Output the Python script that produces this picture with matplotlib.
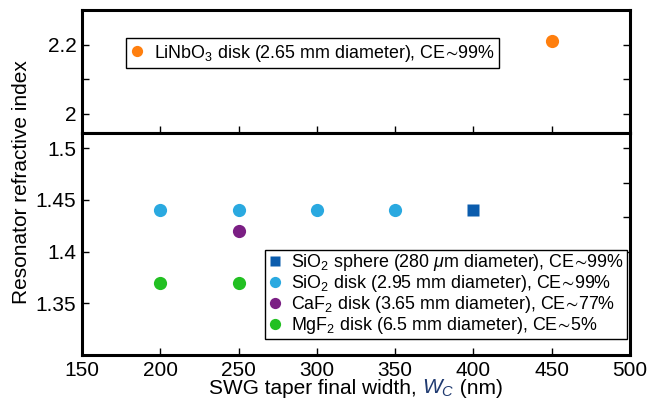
import matplotlib
matplotlib.use("Agg")
import matplotlib.pyplot as plt

plt.rcParams['font.family'] = ['Liberation Sans', 'DejaVu Sans']
plt.rcParams['mathtext.fontset'] = 'custom'
plt.rcParams['mathtext.rm'] = 'Liberation Sans'
plt.rcParams['mathtext.it'] = 'Liberation Sans:italic'
plt.rcParams['mathtext.bf'] = 'Liberation Sans:bold'
plt.rcParams['mathtext.fallback'] = 'stixsans'

# ---- data ----
linbo3_x = [450]
linbo3_y = [2.21]
sio2_sphere_x = [400]
sio2_sphere_y = [1.44]
sio2_disk_x = [200, 250, 300, 350]
sio2_disk_y = [1.44, 1.44, 1.44, 1.44]
caf2_x = [250]
caf2_y = [1.42]
mgf2_x = [200, 250]
mgf2_y = [1.37, 1.37]

x_ticks = [150, 200, 250, 300, 350, 400, 450, 500]
top_yticks = [2.0, 2.1, 2.2]
top_yticklabels = ['2', '', '2.2']
bot_yticks = [1.35, 1.40, 1.45, 1.50]
bot_yticklabels = ['1.35', '1.4', '1.45', '1.5']

SIM = r'$\!{\sim}\!$'
lbl_linbo3 = r'LiNbO$_3$ disk (2.65 mm diameter), CE' + SIM + '99%'
lbl_sphere = r'SiO$_2$ sphere (280 $\mu$m diameter), CE' + SIM + '99%'
lbl_sio2 = r'SiO$_2$ disk (2.95 mm diameter), CE' + SIM + '99%'
lbl_caf2 = r'CaF$_2$ disk (3.65 mm diameter), CE' + SIM + '77%'
lbl_mgf2 = r'MgF$_2$ disk (6.5 mm diameter), CE' + SIM + '5%'

xlabel_parts = ['SWG taper final width, ', r'$\mathit{W}_\mathit{C}$', ' (nm)']
xlabel_colors = ['black', '#1f3a70', 'black']

c_orange = '#ff7f0e'
c_sphere = '#0b5cad'
c_disk = '#2aa9e0'
c_caf2 = '#7b1f84'
c_mgf2 = '#22c022'

W, H = 647, 405
fig = plt.figure(figsize=(W / 100, H / 100), dpi=100)

left, right = 82 / W, 630 / W
y_top1 = 1 - 10 / H
y_div = 1 - 132.7 / H
y_bot0 = 1 - 355 / H

ax_t = fig.add_axes([left, y_div, right - left, y_top1 - y_div])
ax_b = fig.add_axes([left, y_bot0, right - left, y_div - y_bot0])

ms = 9.5
for ax in (ax_t, ax_b):
    for s in ax.spines.values():
        s.set_linewidth(2.2)
    ax.set_xlim(150, 500)
    ax.set_xticks(x_ticks)
    ax.tick_params(axis='both', direction='in', length=5, width=1,
                   labelsize=15, top=False, right=True, pad=4)

# top panel
ax_t.plot(linbo3_x, linbo3_y, 'o', color=c_orange, ms=ms, mec='none', label=lbl_linbo3)
ax_t.set_ylim(1.945, 2.3)
ax_t.set_yticks(top_yticks)
ax_t.set_yticklabels(top_yticklabels)
ax_t.tick_params(axis='x', labelbottom=False)
leg_t = ax_t.legend(loc='upper left', bbox_to_anchor=(0.080, 0.77), fontsize=12.9,
                    frameon=True, fancybox=False, framealpha=1, edgecolor='black',
                    handlelength=0.8, handletextpad=0.5, borderpad=0.25,
                    borderaxespad=0, markerscale=0.85)
leg_t.get_frame().set_linewidth(1.0)

# bottom panel
ax_b.plot(sio2_sphere_x, sio2_sphere_y, 's', color=c_sphere, ms=8.5, mec='none', label=lbl_sphere)
ax_b.plot(sio2_disk_x, sio2_disk_y, 'o', color=c_disk, ms=ms, mec='none', label=lbl_sio2)
ax_b.plot(caf2_x, caf2_y, 'o', color=c_caf2, ms=ms, mec='none', label=lbl_caf2)
ax_b.plot(mgf2_x, mgf2_y, 'o', color=c_mgf2, ms=ms, mec='none', label=lbl_mgf2)
ax_b.set_ylim(1.3, 1.515)
ax_b.set_yticks(bot_yticks)
ax_b.set_yticklabels(bot_yticklabels)
ax_b.tick_params(axis='y', right=False)

# right-side ticks continuing the top panel scale
ax_r = ax_b.twinx()
top_span = 2.3 - 1.945
ratio = (y_div - y_bot0) / (y_top1 - y_div)
ax_r.set_ylim(1.945 - top_span * ratio, 1.945)
ax_r.set_yticks([1.6, 1.7, 1.8, 1.9])
ax_r.tick_params(axis='y', direction='in', length=5, width=1, labelright=False)
for s in ax_r.spines.values():
    s.set_visible(False)

leg_b = ax_r.legend(*ax_b.get_legend_handles_labels(),
                    loc='lower right', bbox_to_anchor=(0.9945, 0.072), fontsize=12.9,
                    frameon=True, fancybox=False, framealpha=1, edgecolor='black',
                    handlelength=0.8, handletextpad=0.5, borderpad=0.15,
                    labelspacing=0.0, borderaxespad=0, markerscale=0.85)
leg_b.get_frame().set_linewidth(1.0)

# x label built from pieces so W_C can be coloured
renderer = fig.canvas.get_renderer()
pieces = [fig.text(0, 0, p, fontsize=15, color=c, ha='left', va='baseline')
          for p, c in zip(xlabel_parts, xlabel_colors)]
widths = [t.get_window_extent(renderer).width for t in pieces]
total = sum(widths)
x0 = 0.5 * (left + right) * W - total / 2
y_base = (H - 394) / H
for t, w in zip(pieces, widths):
    t.set_position((x0 / W, y_base))
    x0 += w

fig.text(0.034, (y_top1 + y_bot0) / 2, 'Resonator refractive index', rotation=90,
         ha='center', va='center', fontsize=15)

fig.savefig('out.png', dpi=100)
